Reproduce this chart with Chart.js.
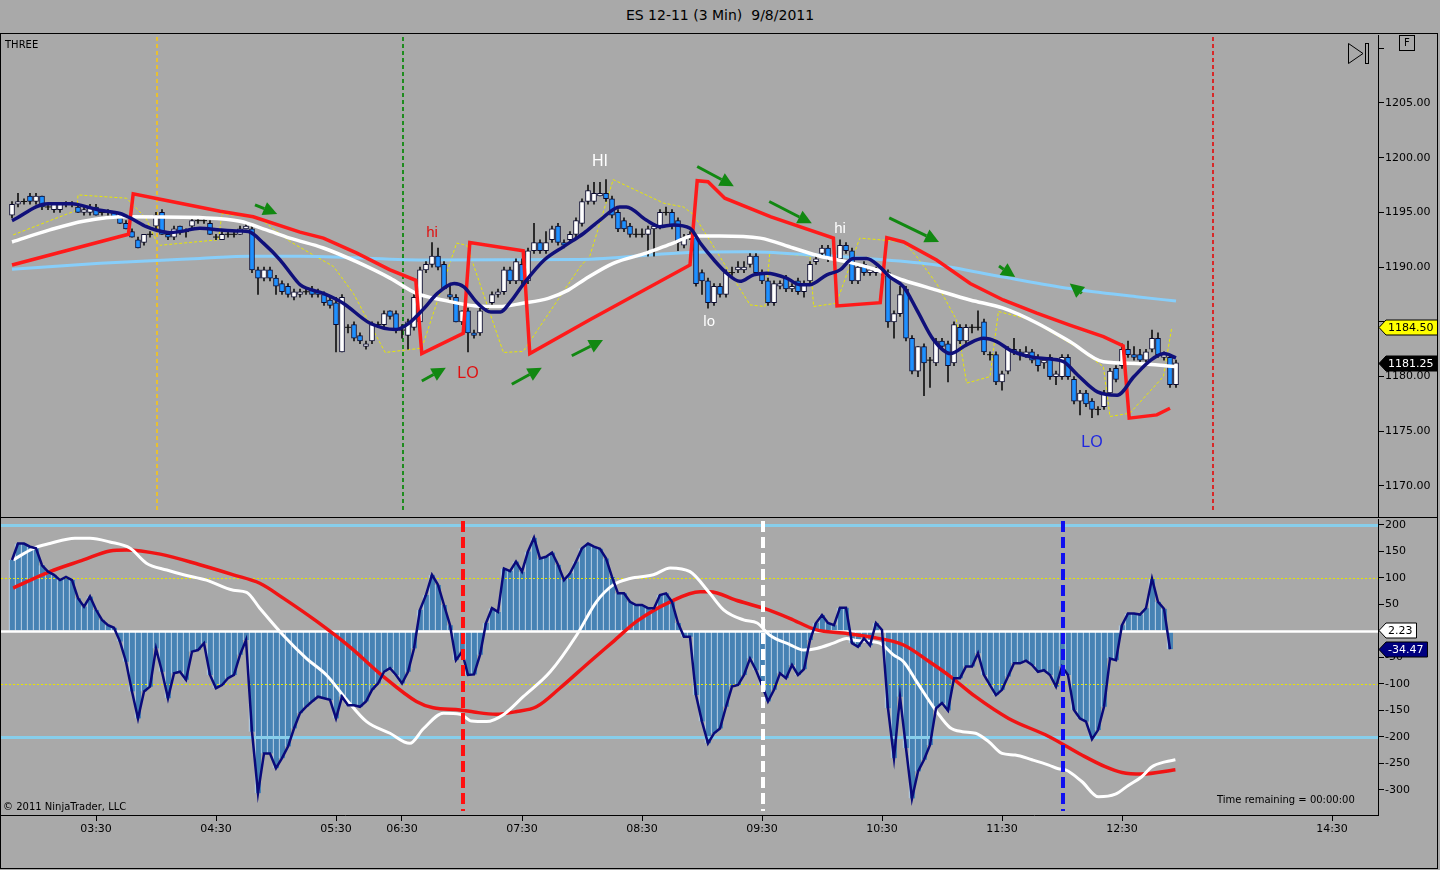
<!DOCTYPE html>
<html>
<head>
<meta charset="utf-8">
<title>ES 12-11 (3 Min) 9/8/2011</title>
<script src="https://cdn.jsdelivr.net/npm/chart.js@4.4.1/dist/chart.umd.min.js"></script>
<style>
  body { margin: 0; width: 1440px; height: 870px; overflow: hidden; background: #a9a9a9; position: relative; font-family: "DejaVu Sans", sans-serif; }
  canvas { position: absolute; left: 0; }
  #title { position: absolute; top: 7px; left: 0; width: 1440px; text-align: center; font-size: 14px; white-space: pre; color: #000; }
  #frame { position: absolute; left: 0; top: 33px; width: 1436px; height: 834px; border: 1px solid #000; pointer-events: none; }
  #sep { position: absolute; left: 0; top: 517px; width: 1438px; height: 1px; background: #000; }
  .note { position: absolute; font-size: 10px; color: #000; white-space: pre; }
  #fbox { position: absolute; left: 1399px; top: 35px; width: 14px; height: 14px; border: 1px solid #000; font-size: 10px; text-align: center; line-height: 14px; }
  #play { position: absolute; left: 1347px; top: 42px; }
</style>
</head>
<body>
<div id="title">ES 12-11 (3 Min)  9/8/2011</div>
<canvas id="priceChart" width="1440" height="503" style="top:23px"></canvas>
<canvas id="oscChart" width="1440" height="362" style="top:508px"></canvas>
<div id="frame"></div>
<div id="sep"></div>
<div class="note" style="left:5px;top:39px">THREE</div>
<div class="note" style="left:3px;top:801px">© 2011 NinjaTrader, LLC</div>
<div class="note" style="left:1217px;top:794px">Time remaining = 00:00:00</div>
<div id="fbox">F</div>
<svg id="play" width="24" height="23">
  <polygon points="1.5,1.5 16,11.5 1.5,21.5" fill="none" stroke="#000" stroke-width="1"/>
  <rect x="18.5" y="1.5" width="3" height="20" fill="none" stroke="#000" stroke-width="1"/>
</svg>
<script>
// bar index -> time label (3 min bars, session gap between 05:30 and 06:30)
const timeIdx = [14, 34, 54, 65, 85, 105, 125, 145, 165, 185, 220];
const timeLabels = ['03:30', '04:30', '05:30', '06:30', '07:30', '08:30', '09:30', '10:30', '11:30', '12:30', '14:30'];
const priceTicks = [1170, 1175, 1180, 1185, 1190, 1195, 1200, 1205, 1210];
const oscTicks = [-300, -250, -200, -150, -100, -50, 0, 50, 100, 150, 200];

const open = [1194.75,1195.75,1196,1196.5,1196,1196.5,1195.5,1195.25,1195.25,1195.75,
1195.75,1195.5,1195,1195,1195.5,1195,1195,1195,1194.5,1194,
1193.25,1192.5,1192.25,1193,1193.75,1195,1193,1192.75,1193.75,1193.25,
1193.75,1194.25,1194.25,1194,1192.75,1192.5,1193,1193,1193,1193.5,
1193.5,1189.75,1189,1189.75,1189,1188.5,1188.25,1187.25,1187.5,1187.75,
1188,1187.75,1187.5,1187,1186.75,1182.25,1184.5,1184.75,1183.75,1182.75,
1183.25,1184.75,1184.75,1186,1185.75,1184.25,1183.75,1184.5,1185,1189.75,
1190.25,1191,1190.25,1187.5,1187.25,1185,1186,1184,1184,1186.25,
1186.75,1187.5,1187.75,1189.75,1188.75,1190.25,1188.75,1191.5,1192.25,1191.5,
1192.5,1193.75,1192.25,1192.5,1193,1194,1196,1196,1196.5,1196.75,
1196.25,1195,1194.25,1193.75,1193,1193,1193,1193.5,1193.75,1195,
1195,1194.25,1192,1192.75,1192.75,1189.5,1188.75,1186.75,1188.25,1187.5,
1189.5,1189.75,1189.75,1190.25,1191,1189.5,1188.75,1186.75,1188.25,1189,
1188,1188.75,1187.75,1188.75,1190.5,1191.25,1191.75,1190.75,1190.75,1192,
1191.5,1188.75,1190.25,1189.5,1189.5,1189.75,1189.5,1185,1185.75,1188,
1183.5,1180.5,1182.75,1181.5,1181.25,1183.25,1183,1181.25,1184.5,1183.25,
1184.5,1184.5,1185,1182,1182,1179.5,1180.5,1182.5,1182.25,1182,
1182.25,1181.75,1181.25,1181.75,1180,1180,1181.75,1179.75,1177.75,1178.5,
1177.75,1177,1177.25,1178.5,1180.75,1181,1182.5,1182,1182,1181.5,
1182.5,1183.5,1181.75,1181.75,1179.25];
const high = [1196,1196.75,1196.25,1196.75,1196.75,1196.5,1195.75,1195.75,1195.75,1196,
1196,1195.75,1195.5,1195.75,1195.75,1195.25,1195.25,1195,1194.75,1194.25,
1193.5,1192.75,1193,1193.25,1195,1195.25,1193.25,1193.75,1193.75,1193.5,
1194.5,1194.5,1194.5,1194.25,1193,1193.25,1193.25,1193.25,1193.75,1194,
1193.75,1190,1190,1190,1189.25,1188.75,1188.5,1188,1188,1188,
1188.25,1188,1187.75,1187.25,1187.25,1187.5,1184.75,1185,1184,1183.25,
1185,1185,1186,1186,1186,1184.75,1185.25,1187.5,1190,1190.5,
1192.25,1191.75,1190.5,1188.25,1187.5,1186,1186.25,1184.25,1186.25,1186.5,
1187.75,1188,1190,1190,1190.75,1190.75,1191.75,1194,1192.5,1193.25,
1193.75,1194,1192.5,1193.25,1194.5,1196.25,1197.5,1197.75,1197.75,1198,
1196.5,1195.25,1194.5,1194,1193.5,1193.5,1193.75,1194,1195.25,1195.5,
1195.25,1194.5,1193,1193.25,1193,1189.75,1189,1188.5,1188.5,1189.75,
1190,1190.5,1190.5,1191.25,1191.25,1189.75,1189,1188.75,1188.75,1189.25,
1188.5,1189,1188.75,1190.5,1191,1192,1192,1191,1192.5,1192.25,
1191.75,1190.25,1190.5,1189.75,1190,1190,1189.75,1186,1188.25,1188.25,
1183.75,1182.75,1183,1181.75,1183.5,1183.5,1183.25,1185,1184.75,1184.75,
1184.75,1186,1185.25,1182.25,1182.25,1180.5,1182.75,1183.5,1182.5,1182.75,
1182.5,1182,1181.75,1182,1180.5,1182,1182,1180,1178.75,1178.75,
1178,1177.25,1178.75,1180.75,1181,1183,1183.25,1182.75,1182.5,1182.5,
1184.25,1184,1182.25,1182,1181.5];
const low = [1194.5,1195.5,1195.75,1195.75,1195.75,1195.25,1195.25,1195,1195,1195.5,
1195.5,1195,1194.75,1194.75,1194.75,1194.75,1194.75,1194.5,1194,1193.5,
1192.75,1191.75,1192,1192.75,1193.5,1193,1192.5,1192.5,1193,1192.75,
1193.5,1194,1194,1193,1192.5,1192.5,1192.75,1192.75,1193,1193.5,
1189.5,1187.5,1188.75,1188.75,1187.5,1187.5,1187.25,1187,1187.25,1187.5,
1187.25,1187.25,1186.5,1186.25,1182.25,1182.25,1184,1183.25,1183,1182.5,
1183,1184.5,1184.5,1185.25,1184,1183.5,1182.5,1184.25,1185,1189.5,
1190,1189.75,1188,1187,1185,1184.75,1182.25,1183.5,1183.75,1186,
1186.5,1187.25,1187.5,1188.5,1188.5,1188.5,1188.5,1191.25,1191.25,1191.25,
1192.25,1192,1191.75,1192.25,1192.75,1193.75,1195.75,1195.75,1196.5,1196,
1194.5,1193.25,1193.25,1192.75,1192.75,1192.75,1191,1191,1193.5,1194.75,
1193.5,1191.5,1191.75,1192.5,1188.25,1187.5,1186.25,1186.5,1187.25,1187.25,
1189.25,1189.5,1189.5,1190,1189.5,1188.5,1186.5,1186.5,1188,1187.75,
1187.75,1187.5,1187.25,1188.5,1190.25,1191,1190.5,1190.25,1190.5,1191.25,
1188.5,1188.5,1189.25,1189.25,1189.25,1189.25,1184.5,1183.5,1185.5,1183.25,
1180.25,1180,1178.25,1179,1181,1182.5,1179.5,1181,1183,1183,
1184,1184.25,1182,1181.5,1179.25,1178.75,1180.25,1182,1181.5,1181.75,
1181.25,1180.5,1180.75,1179.75,1179.25,1179.75,1179.75,1177.5,1176.5,1177.25,
1176.25,1176.5,1177,1178.25,1179.5,1180.75,1181.75,1181.5,1181.25,1181.25,
1182.25,1181.75,1181.5,1179,1179];
const close = [1195.75,1196,1196,1196,1196.5,1195.5,1195.5,1195.75,1195.75,1195.75,
1195.75,1195,1195.25,1195.5,1194.75,1195,1195,1194.5,1194,1193.5,
1192.75,1191.75,1193,1193,1194.75,1193,1192.75,1193.5,1193.25,1193.25,
1194.25,1194.25,1194.25,1193,1192.75,1193,1193,1193,1193.5,1193.75,
1189.75,1189,1189.75,1189,1188.25,1187.75,1187.5,1187.75,1187.75,1187.75,
1187.5,1187.5,1186.75,1186.5,1184.75,1187.25,1184.5,1183.5,1183.25,1183,
1184.75,1184.75,1185.75,1185.5,1184.25,1184.25,1185,1187.25,1189.75,1190.25,
1191,1190,1188,1187.25,1185,1186,1184,1183.75,1186,1186.25,
1187.5,1187.75,1189.75,1188.75,1190.5,1188.75,1191.5,1192.25,1191.5,1192.25,
1193.5,1192.25,1192,1193,1194.25,1196,1197,1196.75,1196.75,1196.25,
1194.75,1193.5,1193.5,1193,1193,1193,1193.5,1193.75,1195,1195,
1193.75,1192.25,1192.75,1193,1188.5,1188.75,1186.75,1188.25,1187.5,1189.5,
1189.5,1190,1190,1191,1189.5,1188.75,1186.75,1188.5,1188.5,1188,
1188.25,1187.75,1188.5,1190.25,1190.75,1191.75,1190.75,1190.75,1192,1191.5,
1188.75,1190,1189.5,1189.75,1189.75,1189.5,1185,1185.75,1187.5,1183.5,
1180.5,1182.75,1181.25,1181.5,1183.25,1182.75,1181,1184.75,1183.25,1184.5,
1184.5,1184.5,1182.25,1182,1179.5,1180.25,1182.5,1182.25,1182,1182.25,
1181.5,1181,1181.5,1180,1180.25,1181.75,1180,1177.75,1178.5,1177.5,
1177,1177,1178.5,1180.5,1179.75,1182.5,1182,1181.75,1181.5,1182.25,
1183.5,1182,1182,1179.25,1181.25];

// overlays on the price panel, [bar index, price]
const fastMA = [[0,1194.25],[6,1195.8],[10,1195.8],[12.5,1195.5],[14.7,1195.2],[18,1194.9],[19.7,1194.5],[22.4,1193.7],[24,1193.4],[26.3,1193.15],[28,1193.25],[31.3,1193.55],[34.7,1193.4],[38,1193.3],[39.4,1193.25],[41.9,1192.2],[44.7,1190.65],[46.9,1189.1],[48,1188.4],[51.9,1187.6],[55.2,1186.7],[59.6,1184.9],[64,1184.3],[66.2,1184.9],[68.7,1186.25],[70.9,1187.6],[73.7,1188.5],[75.3,1188.2],[77.6,1186.7],[79.8,1185.9],[81.4,1185.9],[83.1,1186.85],[85.3,1188.5],[88.7,1190.65],[92,1191.9],[95.3,1193.1],[98,1194.3],[101.3,1195.5],[102.4,1195.5],[105.7,1194.3],[108,1193.7],[110.2,1193.85],[113,1193.55],[114.7,1192.2],[117,1190.65],[119.1,1189.45],[121.3,1188.7],[123.6,1189.3],[125.8,1189.45],[129.1,1189.0],[131.3,1188.4],[133,1188.4],[135.8,1189.3],[138,1189.75],[140.2,1190.8],[142.4,1190.8],[144.5,1190.1],[146.3,1189.1],[148.6,1188.2],[150.8,1186.1],[153.6,1183.35],[156.4,1182.1],[159.1,1182.9],[161.9,1183.5],[164.1,1183.2],[166.4,1182.4],[169.8,1181.8],[173.1,1181.6],[175.3,1181.35],[177.6,1180.15],[180.9,1178.6],[184.2,1178.3],[187,1180.0],[189.8,1181.5],[192,1182.1],[194,1181.7]];
const slowMA = [[0,1192.3],[6.3,1193.4],[11.9,1194.2],[19.1,1194.6],[32.4,1194.5],[38,1194.2],[42.4,1193.4],[46.3,1192.65],[51.9,1191.75],[57.4,1190.5],[63,1189.0],[67.4,1187.6],[71.8,1187.0],[77.3,1186.45],[81.2,1186.4],[85.1,1186.7],[89.4,1187.15],[92.7,1187.9],[95.5,1188.9],[100.2,1190.35],[105.8,1191.3],[110.2,1192.2],[113.5,1192.85],[117.9,1192.85],[124.7,1192.65],[130.2,1191.75],[134.7,1191.0],[139.1,1190.5],[143.5,1189.85],[148.6,1188.8],[154.1,1187.9],[159.7,1187.0],[165.2,1186.25],[170.8,1184.9],[176.3,1183.2],[181.9,1181.35],[187.4,1181.2],[194.2,1180.9]];
const longMA = [[0,1189.8],[14.7,1190.35],[31.3,1190.8],[39.7,1191.0],[48,1191.0],[68.7,1190.65],[94.7,1190.7],[111.3,1191.3],[122.4,1191.4],[133.6,1191.1],[143.5,1190.75],[154.1,1190.2],[165.2,1189.1],[176.3,1188.05],[187.4,1187.3],[194,1186.9]];
const stepLine = [[0,1190.2],[19.4,1193.0],[20.2,1196.7],[24.7,1196.2],[34.7,1195.1],[40.2,1194.6],[48,1193.2],[51.9,1192.65],[57.4,1191.3],[63,1189.75],[67.3,1188.8],[68.3,1182.1],[75.2,1183.95],[76.3,1192.25],[85.2,1191.5],[86.3,1182.1],[96.3,1185.2],[113,1190.2],[114.2,1197.9],[116,1197.8],[118.8,1196.3],[126.5,1194.6],[136.9,1192.65],[137.5,1186.45],[144.7,1186.75],[145.8,1192.7],[148.6,1192.3],[154.1,1190.65],[159.7,1188.5],[165.2,1187.0],[170.8,1185.8],[176.3,1184.7],[181.9,1183.65],[185.2,1182.8],[186.2,1176.2],[190.8,1176.5],[193,1177.1]];
const envelope = [[0.2,1192.95],[10.8,1195.2],[11,1196.6],[19.1,1196.3],[22.3,1194.5],[24.1,1192.35],[24.7,1192.0],[34.4,1192.5],[35,1194.9],[41.3,1194.45],[46.3,1192.35],[53.6,1190.05],[56.9,1187.6],[62.2,1182.2],[68.3,1182.6],[74.1,1192.2],[75.8,1192.0],[81.9,1182.2],[85.2,1182.3],[94.7,1190.05],[96.3,1191.0],[100.2,1198.0],[108.6,1195.85],[111.9,1195.5],[113.6,1194.8],[123,1186.55],[125.5,1186.4],[126.3,1191.3],[133,1191.0],[133.6,1186.4],[137.4,1186.7],[141.3,1192.65],[144.7,1192.5],[148.6,1192.3],[150.8,1190.95],[154.1,1188.5],[157.4,1185.2],[159.1,1179.4],[163,1180.0],[164.4,1185.95],[169.7,1185.2],[177.4,1182.7],[181.9,1180.9],[183,1176.35],[186.3,1176.65],[191.9,1180.0],[193.3,1184.5]];

// oscillator panel
const cci = [134,165,165,159,156,124,112,106,96,102,
96,62,46,65,40,21,11,6,-20,-58,
-114,-165,-114,-105,-33,-77,-127,-80,-77,-92,
-39,-36,-23,-83,-108,-102,-89,-83,-45,-17,
-190,-306,-231,-231,-259,-240,-218,-184,-155,-143,
-133,-124,-127,-130,-165,-124,-140,-140,-143,-133,
-111,-99,-77,-70,-83,-99,-77,-33,40,68,
106,87,49,11,-55,-39,-83,-82,-45,15,
43,36,118,113,131,112,150,176,137,140,
148,125,96,109,131,156,165,159,155,137,
102,71,71,55,49,49,43,43,68,71,
55,15,-11,-11,-121,-171,-212,-193,-184,-143,
-105,-102,-83,-52,-74,-102,-133,-111,-80,-89,
-64,-83,-72,-17,15,30,15,11,44,44,
-23,-30,-14,-27,15,2,-146,-240,-124,-221,
-316,-265,-243,-215,-146,-136,-150,-89,-89,-67,
-67,-42,-83,-102,-121,-111,-86,-61,-61,-56,
-64,-77,-74,-83,-105,-67,-83,-149,-165,-171,
-204,-187,-143,-52,-55,11,33,33,31,43,
99,55,42,-34.47];
const cciFast = [[0.2,134],[3.6,156],[6.3,165],[10.5,175],[13,175],[16.3,168],[19.7,156],[22.4,128],[25.8,115],[28.6,106],[32.4,96],[36.9,77],[39.1,73],[41.3,43],[45.2,-8],[49.1,-52],[52.4,-83],[55.8,-130],[59.1,-171],[63,-193],[66.3,-212],[68.6,-184],[71.9,-155],[74.7,-157],[76.6,-170],[79.1,-171],[81.9,-158],[85.2,-124],[89.7,-77],[94.1,-8],[97.4,55],[100.2,87],[103,99],[106.9,106],[109.7,119],[113,112],[116.3,71],[118.6,40],[121.9,21],[124.2,15],[126.3,-8],[129.7,-26],[131.9,-36],[134.1,-33],[136.9,-23],[139.1,-14],[140.7,-18],[144.6,-23],[146.9,-45],[148.6,-58],[150.8,-96],[154.1,-152],[156.3,-182],[158.4,-190],[160.6,-193],[162.8,-209],[165,-231],[167.2,-234],[170,-243],[172.8,-253],[174.4,-260],[175.6,-262],[178.3,-284],[181.1,-313],[183.9,-308],[186.1,-291],[188.3,-275],[190,-256],[192.2,-247],[193.9,-243]];
const cciSlow = [[0.2,81],[6.3,112],[11.9,134],[16.3,151],[19.1,153],[24.7,145],[31.3,125],[36.9,106],[41.3,90],[45.2,62],[50.8,18],[56.3,-30],[61.9,-86],[67.4,-133],[70.2,-145],[74.7,-149],[77,-153],[80.7,-157],[84.1,-152],[87.4,-143],[91.3,-108],[96.3,-58],[100.2,-20],[104.1,18],[109.7,55],[114.7,74],[116.3,74],[120.7,58],[125.2,43],[129.6,24],[134.1,2],[138.5,-4],[142.9,-11],[148.5,-26],[152.9,-58],[156.3,-85],[160.6,-124],[166.1,-165],[172.8,-199],[178.3,-234],[182.2,-256],[185,-267],[188.3,-270],[193.9,-262]];

// drawing objects: arrows [tail bar, tail price, head bar, head price], texts, markers
const arrows = [[40.5,1195.7,44.2,1194.85],[68.3,1179.6,72.3,1180.8],[83.3,1179.3,88.3,1180.8],[93.3,1181.9,98.5,1183.35],[114.2,1199.2,120.3,1197.4],[126.2,1196.0,133.3,1194.0],[146.2,1194.5,154.5,1192.3],[164.5,1190.1,167.2,1189.1],[178.3,1187.6,176.3,1188.5]];
const notes = [['hi',70,1193.12,'#e01010',15],['LO',76,1180.23,'#e01010',16],['HI',98,1199.6,'#ffffff',16],['lo',116.2,1185.0,'#ffffff',15],['hi',138,1193.5,'#ffffff',15],['LO',180,1174.0,'#2028e0',16]];
const priceMarks = [[24,'#e8c030'],[65,'#1e8c1e'],[200,'#d82828']];
const oscMarks = [[75,'#ff1010'],[125,'#ffffff'],[175,'#1010f0']];
const oscLevels = [[200,'#87ceeb',3,[]],[100,'#e6e600',1,[2,2]],[0,'#ffffff',2.5,[]],[-100,'#e6e600',1,[2,2]],[-200,'#87ceeb',3,[]]];
const priceTags = [[1184.5,'#ffff00','#000'],[1181.25,'#000000','#fff']];
const oscTags = [[2.23,'#ffffff','#000'],[-34.47,'#000080','#fff']];

const X_MIN = -11 / 6, X_MAX = 1366 / 6;

Chart.defaults.font.family = '"DejaVu Sans", sans-serif';
Chart.defaults.font.size = 11;
Chart.defaults.color = '#000';

const pts = arr => arr.map(([x, y]) => ({ x, y }));
const idx = close.map((_, i) => i);
const bodyIdx = idx.filter(i => open[i] !== close[i]);
// tick labels that sit under a value tag are not shown
const underTag = (v, tags, gap) => tags.some(t => Math.abs(t[0] - v) < gap);

function tag(ctx, x0, y, text, bg, fg) {
    ctx.font = '11px "DejaVu Sans"';
    const w = ctx.measureText(text).width + 6;
    ctx.beginPath();
    ctx.moveTo(x0, y);
    ctx.lineTo(x0 + 7, y - 7.5);
    ctx.lineTo(x0 + 7 + w, y - 7.5);
    ctx.lineTo(x0 + 7 + w, y + 7.5);
    ctx.lineTo(x0 + 7, y + 7.5);
    ctx.closePath();
    ctx.fillStyle = bg; ctx.fill();
    ctx.strokeStyle = '#000'; ctx.lineWidth = 1; ctx.stroke();
    ctx.fillStyle = fg; ctx.textAlign = 'left'; ctx.textBaseline = 'middle';
    ctx.fillText(text, x0 + 9, y + 0.5);
}

function arrow(ctx, x1, y1, x2, y2) {
    const a = Math.atan2(y2 - y1, x2 - x1), len = 14, half = 7;
    const bx = x2 - len * Math.cos(a), by = y2 - len * Math.sin(a);
    ctx.lineWidth = 3;
    ctx.beginPath(); ctx.moveTo(x1, y1); ctx.lineTo(bx, by); ctx.stroke();
    ctx.beginPath();
    ctx.moveTo(x2, y2);
    ctx.lineTo(bx + half * Math.sin(a), by - half * Math.cos(a));
    ctx.lineTo(bx - half * Math.sin(a), by + half * Math.cos(a));
    ctx.closePath(); ctx.fill();
}

const priceDecor = {
    id: 'priceDecor',
    beforeDatasetsDraw(chart) {
        const { ctx, chartArea: a, scales: { x } } = chart;
        ctx.save();
        ctx.lineWidth = 2;
        ctx.setLineDash([4, 3]);
        priceMarks.forEach(([v, col]) => {
            const px = Math.round(x.getPixelForValue(v)) + 1;
            ctx.strokeStyle = col;
            ctx.beginPath(); ctx.moveTo(px, a.top + 2); ctx.lineTo(px, a.bottom - 4); ctx.stroke();
        });
        ctx.restore();
    },
    afterDatasetsDraw(chart) {
        const { ctx, scales: { x, y } } = chart;
        ctx.save();
        ctx.fillStyle = '#118811'; ctx.strokeStyle = '#118811';
        arrows.forEach(([a, b, c, d]) => arrow(ctx, x.getPixelForValue(a), y.getPixelForValue(b), x.getPixelForValue(c), y.getPixelForValue(d)));
        ctx.textAlign = 'center'; ctx.textBaseline = 'middle';
        notes.forEach(([t, bi, p, col, size]) => {
            ctx.font = size + 'px "Liberation Sans"';
            ctx.fillStyle = col;
            ctx.fillText(t, x.getPixelForValue(bi), y.getPixelForValue(p));
        });
        ctx.restore();
    },
    afterDraw(chart) {
        const { ctx, chartArea: a, scales: { y } } = chart;
        ctx.save();
        priceTags.forEach(([v, bg, fg]) => tag(ctx, a.right + 1, Math.round(y.getPixelForValue(v)) + 0.5, v.toFixed(2), bg, fg));
        ctx.restore();
    }
};

const oscDecor = {
    id: 'oscDecor',
    afterDatasetDraw(chart, args) {
        if (args.index !== 0) return;
        const { ctx, chartArea: a, scales: { y } } = chart;
        ctx.save();
        oscLevels.forEach(([v, col, w, dash]) => {
            const py = Math.round(y.getPixelForValue(v)) + (w % 2 ? 0.5 : 0);
            ctx.strokeStyle = col; ctx.lineWidth = w; ctx.setLineDash(dash);
            ctx.beginPath(); ctx.moveTo(a.left, py); ctx.lineTo(a.right, py); ctx.stroke();
        });
        ctx.restore();
    },
    afterDatasetsDraw(chart) {
        const { ctx, chartArea: a, scales: { x } } = chart;
        ctx.save();
        ctx.lineWidth = 4;
        ctx.setLineDash([11, 5]);
        oscMarks.forEach(([v, col]) => {
            const px = Math.round(x.getPixelForValue(v)) + 1;
            ctx.strokeStyle = col;
            ctx.beginPath(); ctx.moveTo(px, a.top + 2); ctx.lineTo(px, a.bottom - 4); ctx.stroke();
        });
        ctx.restore();
    },
    afterDraw(chart) {
        const { ctx, chartArea: a, scales: { y } } = chart;
        ctx.save();
        oscTags.forEach(([v, bg, fg]) => tag(ctx, a.right + 1, Math.round(y.getPixelForValue(v)) + 0.5, v.toFixed(2), bg, fg));
        ctx.restore();
    }
};

const xScale = (show) => {
    const s = {
        type: 'linear', min: X_MIN, max: X_MAX, offset: false, display: show,
        afterBuildTicks: sc => { sc.ticks = timeIdx.map(v => ({ value: v })); },
        ticks: { autoSkip: false, maxRotation: 0, padding: 2, callback: (v, i) => timeLabels[i] },
        grid: { display: true, offset: false, drawOnChartArea: false, drawTicks: true, tickLength: 6, color: '#000' },
        border: { display: true, color: '#000' }
    };
    if (show) s.afterFit = sc => { sc.height = 55; };
    return s;
};

const lineDs = (data, color, width, order, extra) => Object.assign({
    type: 'line', data: pts(data), borderColor: color, borderWidth: width,
    pointRadius: 0, fill: false, order: order, cubicInterpolationMode: 'monotone'
}, extra || {});

new Chart(document.getElementById('priceChart'), {
    type: 'line',
    data: {
        datasets: [
            lineDs(envelope, '#e8e800', 1, 9, { borderDash: [3, 2], cubicInterpolationMode: 'default', tension: 0 }),
            lineDs(longMA, '#87cefa', 3, 8),
            {
                type: 'bar', grouped: false, order: 7, barThickness: 1,
                data: idx.map(i => ({ x: i, y: [low[i], high[i]] })),
                backgroundColor: '#111111'
            },
            {
                type: 'bar', grouped: false, order: 6, barThickness: 5,
                data: bodyIdx.map(i => ({ x: i, y: [open[i], close[i]] })),
                backgroundColor: bodyIdx.map(i => close[i] > open[i] ? '#ffffff' : '#1e90ff'),
                borderColor: '#0a0a30', borderWidth: 1, borderSkipped: false
            },
            {
                type: 'line', showLine: false, order: 6,
                data: idx.filter(i => open[i] === close[i]).map(i => ({ x: i, y: close[i] })),
                pointStyle: 'line', pointRadius: 3, borderColor: '#111111', borderWidth: 1
            },
            lineDs(slowMA, '#ffffff', 3.5, 4),
            lineDs(stepLine, '#ff1a1a', 3.5, 3, { cubicInterpolationMode: 'default', tension: 0 }),
            lineDs(fastMA, '#10107a', 3.5, 2)
        ]
    },
    options: {
        responsive: false, animation: false, devicePixelRatio: 1,
        layout: { autoPadding: false, padding: { top: 12, bottom: 9, left: 1, right: 0 } },
        plugins: { legend: { display: false }, tooltip: { enabled: false } },
        scales: {
            x: xScale(false),
            y: {
                position: 'right', min: 1167.167, max: 1211.214,
                afterBuildTicks: s => { s.ticks = priceTicks.map(v => ({ value: v })); },
                ticks: { padding: 1, callback: v => (v === 1210 || underTag(v, priceTags, 1)) ? '' : v.toFixed(2) },
                grid: { display: true, drawOnChartArea: false, tickLength: 6, color: '#000' },
                border: { display: true, color: '#000' },
                afterFit: s => { s.width = 62; }
            }
        }
    },
    plugins: [priceDecor]
});

new Chart(document.getElementById('oscChart'), {
    type: 'line',
    data: {
        datasets: [
            {
                type: 'bar', grouped: false, order: 10,
                data: cci.map((v, i) => ({ x: i, y: v })),
                backgroundColor: '#4682b4', borderColor: '#dde8f4',
                borderWidth: { left: 1, right: 0, top: 0, bottom: 0 },
                barPercentage: 1, categoryPercentage: 1
            },
            lineDs(cciSlow, '#f01414', 3.5, 3),
            lineDs(cciFast, '#ffffff', 3, 2),
            lineDs(cci.map((v, i) => [i, v]), '#0a0a7a', 2.5, 1, { cubicInterpolationMode: 'default', tension: 0 })
        ]
    },
    options: {
        responsive: false, animation: false, devicePixelRatio: 1,
        layout: { autoPadding: false, padding: { top: 11, bottom: 0, left: 1, right: 0 } },
        plugins: { legend: { display: false }, tooltip: { enabled: false } },
        scales: {
            x: xScale(true),
            y: {
                position: 'right', min: -347.2, max: 211.3,
                afterBuildTicks: s => { s.ticks = oscTicks.map(v => ({ value: v })); },
                ticks: { padding: 1, callback: v => underTag(v, oscTags, 5) ? '' : String(v) },
                grid: { display: true, drawOnChartArea: false, tickLength: 6, color: '#000' },
                border: { display: true, color: '#000' },
                afterFit: s => { s.width = 62; }
            }
        }
    },
    plugins: [oscDecor]
});
</script>
</body>
</html>
